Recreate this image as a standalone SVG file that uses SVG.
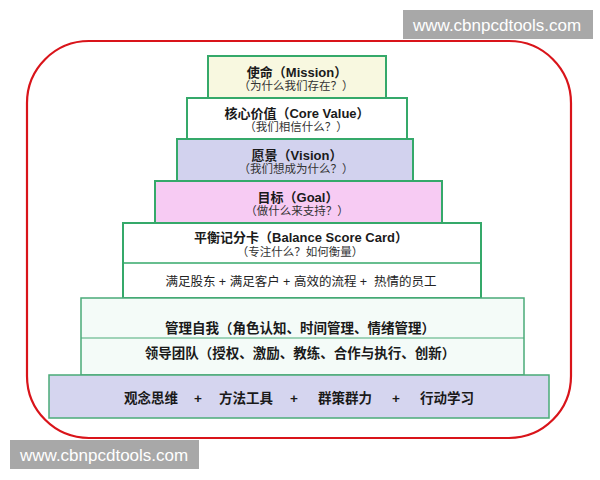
<svg xmlns="http://www.w3.org/2000/svg" width="600" height="480" viewBox="0 0 600 480">
<style>
text{text-spacing-trim:space-all}
.box{stroke:#35a96a;stroke-width:2}
.div{stroke:#35a96a;stroke-width:1.5;fill:none}
.t{font-family:"Liberation Sans","Noto Sans CJK SC",sans-serif;font-size:13px;font-weight:bold;fill:#1a1a1a;text-anchor:middle;dominant-baseline:central}
.s{font-family:"Liberation Sans","Noto Sans CJK SC",sans-serif;font-size:11.5px;fill:#333;text-anchor:middle;dominant-baseline:central}
.m{font-family:"Liberation Sans","Noto Sans CJK SC",sans-serif;font-size:12.5px;fill:#222;text-anchor:middle;dominant-baseline:central}
.b{font-family:"Liberation Sans","Noto Sans CJK SC",sans-serif;font-size:13.5px;font-weight:bold;fill:#1a1a1a;text-anchor:middle;dominant-baseline:central}
.wm{fill:#a8a8a8}
.wt{font-family:"Liberation Sans",Arial,sans-serif;font-size:17px;fill:#ffffff}
</style>
<rect width="600" height="480" fill="#ffffff"/>
<rect id="frame" x="27" y="41" width="544" height="397" rx="62" ry="62" fill="none" stroke="#d9141a" stroke-width="2.2"/>

<g id="mission">
<rect class="box" x="208" y="56" width="178" height="42" fill="#f8f8e0"/>
<text class="t" x="297" y="72">使命（Mission）</text>
<text class="s" x="296" y="86">（为什么我们存在？）</text>
</g>
<g id="corevalue">
<rect class="box" x="187" y="98" width="220" height="41" fill="#ffffff"/>
<text class="t" x="297" y="113">核心价值（Core Value）</text>
<text class="s" x="296" y="127">（我们相信什么？）</text>
</g>
<g id="vision">
<rect class="box" x="177" y="139" width="236" height="42" fill="#d2d2ee"/>
<text class="t" x="297" y="155">愿景（Vision）</text>
<text class="s" x="296" y="169">（我们想成为什么？）</text>
</g>
<g id="goal">
<rect class="box" x="155" y="181" width="287" height="42" fill="#f7cbf3"/>
<text class="t" x="298" y="197">目标（Goal）</text>
<text class="s" x="297" y="211">（做什么来支持？）</text>
</g>
<g id="bsc">
<rect class="box" x="123" y="223" width="358" height="75" fill="#ffffff"/>
<line class="div" x1="123" y1="263" x2="481" y2="263"/>
<text class="t" x="301" y="237">平衡记分卡（Balance Score Card）</text>
<text class="s" x="300" y="252">（专注什么？如何衡量）</text>
<text class="m" x="301" y="282" xml:space="preserve">满足股东 + 满足客户 + 高效的流程 +  热情的员工</text>
</g>
<g id="leadership">
<rect x="81" y="298" width="443" height="77" fill="#f4fbf8" stroke="#4aab78" stroke-width="1.5"/>
<line x1="81" y1="338" x2="524" y2="338" stroke="#4aab78" stroke-width="1"/>
<text class="b" x="300" y="328">管理自我（角色认知、时间管理、情绪管理）</text>
<text class="b" x="300" y="353">领导团队（授权、激励、教练、合作与执行、创新）</text>
</g>
<g id="foundation">
<rect x="49" y="375" width="500" height="43" fill="#d5d5ef" stroke="#4aab78" stroke-width="1.5"/>
<text class="b" x="151" y="398">观念思维</text>
<text class="b" x="198" y="398">+</text>
<text class="b" x="246" y="398">方法工具</text>
<text class="b" x="294" y="398">+</text>
<text class="b" x="345" y="398">群策群力</text>
<text class="b" x="396" y="398">+</text>
<text class="b" x="447" y="398">行动学习</text>
</g>
<g id="connectors"></g>

<g id="watermark-top">
<rect class="wm" x="403" y="10" width="190" height="29"/>
<text class="wt" x="413" y="31">www.cbnpcdtools.com</text>
</g>
<g id="watermark-bottom">
<rect class="wm" x="10" y="440" width="189" height="29"/>
<text class="wt" x="20" y="461">www.cbnpcdtools.com</text>
</g>
</svg>
